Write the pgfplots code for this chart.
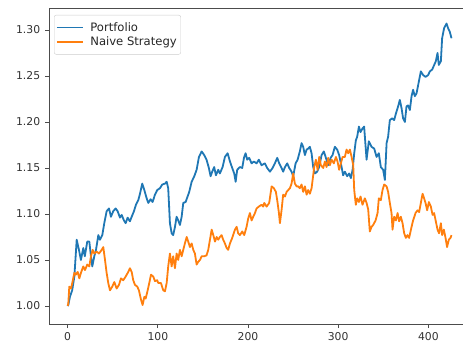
\documentclass[border=0pt]{standalone}
\usepackage{pgfplots}
\pgfplotsset{compat=1.18}
\usepackage{fontspec}
\setmainfont{DejaVu Sans}

\definecolor{tabblue}{HTML}{1F77B4}
\definecolor{taborange}{HTML}{FF7F0E}

\pgfplotstableread{
x y
0 1.000
0.7 1.001
2.5 1.010
5 1.017
7.4 1.032
10 1.072
12.5 1.061
14.7 1.050
17.3 1.063
19 1.054
21.7 1.070
24 1.070
25.8 1.054
27.3 1.043
29.5 1.054
31.4 1.061
34 1.077
35.8 1.072
38.4 1.077
40.6 1.090
43.2 1.103
45.8 1.106
48 1.097
50.5 1.103
53.2 1.106
55.4 1.103
58 1.096
59.9 1.099
62.4 1.093
64.3 1.090
66.5 1.096
69 1.092
71 1.097
73.5 1.103
75.7 1.110
78.3 1.115
80.2 1.122
82.7 1.133
85 1.126
87.6 1.117
89.4 1.112
92 1.116
94.2 1.113
96.8 1.121
99.3 1.126
102.3 1.128
104.9 1.132
107.9 1.133
109.8 1.135
111.5 1.128
113.4 1.090
115.3 1.079
117 1.077
119 1.086
120.8 1.097
122.6 1.093
124.5 1.088
126.4 1.097
128.2 1.112
130.8 1.113
133 1.119
134.8 1.124
137.5 1.135
140.4 1.141
143 1.148
145.6 1.162
148.6 1.168
151.4 1.164
154 1.159
156.6 1.150
158.5 1.141
160.3 1.146
162.5 1.151
164.4 1.142
167 1.148
168.8 1.144
171.8 1.151
174.4 1.162
177.4 1.166
180 1.157
182.5 1.150
184.7 1.144
186.3 1.135
188 1.148
191 1.151
193.6 1.150
195.5 1.161
197.3 1.166
199.1 1.159
201.3 1.161
204 1.155
206.5 1.157
209.5 1.155
212 1.159
215 1.153
218.7 1.155
221.3 1.150
224.3 1.146
227.3 1.150
229.8 1.155
232.4 1.161
234.6 1.155
237.2 1.150
239 1.146
241 1.151
243.5 1.155
245.7 1.150
248.3 1.146
250.1 1.141
252.8 1.155
255 1.159
257.5 1.168
259.4 1.177
261.2 1.173
263.1 1.164
265 1.170
266.7 1.171
268.6 1.173
270.5 1.166
272.3 1.151
274.2 1.144
276.7 1.146
278.9 1.151
281.6 1.164
284.1 1.168
286.4 1.161
288.9 1.153
291.6 1.161
293.8 1.164
296.3 1.173
298.9 1.170
301.1 1.164
303.8 1.151
305.5 1.142
307.4 1.146
310 1.141
312.2 1.144
314.1 1.139
316 1.148
317.8 1.166
319.6 1.180
321.1 1.184
323 1.195
324.8 1.189
327 1.193
328.8 1.195
331.5 1.159
334 1.179
337 1.173
340 1.171
342.6 1.162
345.1 1.166
347.3 1.151
349.9 1.148
351.8 1.137
353.7 1.177
355.4 1.184
357.3 1.202
359.9 1.204
362.1 1.202
364 1.209
366.5 1.217
368.4 1.224
370.3 1.215
372 1.204
374 1.200
375.8 1.217
377.6 1.218
379.5 1.213
381.4 1.228
383.1 1.235
385 1.228
386.9 1.231
389.5 1.244
391.7 1.255
394.2 1.251
396.9 1.249
399.8 1.251
401.7 1.255
404.3 1.257
406.5 1.262
408.3 1.266
410.2 1.275
411.6 1.262
413.9 1.266
415.3 1.291
417.5 1.302
420.2 1.307
421.9 1.302
423.8 1.298
425.7 1.291
}\portfolio

\pgfplotstableread{
x y
0 1.000
0.7 1.003
1.8 1.021
3.7 1.019
5.1 1.025
7.4 1.036
8.9 1.034
11.1 1.037
12.9 1.030
14.7 1.036
17.3 1.043
19.2 1.039
21.7 1.045
24 1.043
25.8 1.054
27.7 1.061
29.5 1.057
32.2 1.059
34.7 1.057
37.7 1.061
39.5 1.064
41.4 1.050
43.2 1.036
45 1.025
46.9 1.017
49.4 1.021
51.7 1.026
54.3 1.019
56.9 1.023
59.1 1.030
61.6 1.028
64.3 1.032
67.2 1.037
69 1.041
71 1.037
72.7 1.028
74.6 1.023
77.2 1.021
79 1.017
81.3 1.007
83.1 1.001
85 1.010
86.5 1.008
88.7 1.017
90.5 1.025
92.4 1.034
94.9 1.032
96.8 1.027
99.3 1.028
100.4 1.025
103.4 1.025
106 1.017
107.9 1.016
109.8 1.025
111.5 1.043
113.4 1.057
115.3 1.043
117 1.054
119 1.041
120.8 1.057
122.6 1.050
124.5 1.061
126.4 1.054
128.2 1.061
130 1.068
132 1.075
133.7 1.070
135.6 1.064
137.5 1.068
139.3 1.061
141.1 1.057
143 1.045
144.8 1.048
146.7 1.050
148.6 1.054
151.4 1.054
154 1.055
155.9 1.061
157.8 1.072
159.7 1.083
161.5 1.077
163.4 1.070
165.2 1.075
167 1.072
168.8 1.075
170.7 1.077
172.5 1.072
174.4 1.068
176.3 1.063
178 1.061
180 1.068
182.5 1.074
185.5 1.083
187.4 1.086
189.1 1.079
191 1.077
193.6 1.081
195.8 1.077
198.4 1.086
200.2 1.095
202.1 1.101
204 1.093
205.8 1.097
207.7 1.101
209.5 1.106
212 1.108
215 1.110
216.9 1.108
218 1.112
220.6 1.108
223.5 1.112
226.2 1.130
228.7 1.128
230.9 1.124
232.4 1.115
234.3 1.101
235.4 1.090
237.2 1.104
239 1.121
241 1.119
242.8 1.124
244.6 1.126
246.5 1.128
248.3 1.133
250.1 1.144
252 1.133
253.9 1.130
255.6 1.130
257.5 1.128
259.4 1.132
261.2 1.124
263.1 1.130
265 1.121
266.7 1.126
268.6 1.122
270.5 1.128
272.3 1.142
273.4 1.151
275.3 1.159
277.2 1.148
279 1.162
280.8 1.153
283.4 1.150
285.3 1.157
287.1 1.151
288.9 1.161
290.8 1.153
292.7 1.159
295.2 1.155
297.5 1.162
299.3 1.157
301.1 1.148
303 1.155
304.9 1.162
307.4 1.162
309.3 1.170
311.1 1.166
313 1.170
314.9 1.162
316.7 1.153
317.8 1.126
319.6 1.110
321.1 1.117
323 1.113
324.8 1.119
327 1.110
329.6 1.117
331.5 1.112
333.3 1.105
335.1 1.081
337 1.086
338.8 1.088
341.5 1.093
343.7 1.101
345.1 1.117
347.3 1.115
349.2 1.126
351 1.132
353.7 1.130
355.4 1.124
357.3 1.112
359.2 1.101
360.3 1.083
362.1 1.097
364 1.093
365.9 1.101
367.6 1.092
369.5 1.097
371.4 1.090
373.2 1.079
375.1 1.074
376.9 1.077
378.7 1.074
381.4 1.086
383.1 1.093
385.8 1.101
388 1.104
389.8 1.102
391.7 1.112
393.6 1.122
395.3 1.117
396.9 1.112
398.7 1.104
400.6 1.113
402.8 1.108
404.7 1.099
406.4 1.101
408.3 1.092
410.2 1.083
411.9 1.079
413.9 1.090
415.3 1.077
417.2 1.083
419.1 1.074
420.8 1.064
422.7 1.072
424.6 1.074
425.7 1.077
}\naive

\begin{document}
\begin{tikzpicture}
\begin{axis}[
  at={(49.2pt,22pt)}, anchor=south west,
  scale only axis,
  width=421.5pt, height=315pt,
  xmin=-20.5, xmax=447,
  ymin=0.9804, ymax=1.3228,
  xtick={0,100,200,300,400},
  ytick={1.00,1.05,1.10,1.15,1.20,1.25,1.30},
  tick pos=left,
  tick align=outside,
  major tick length=4pt,
  axis line style={black!70, line width=1pt},
  tick style={black!70, line width=0.9pt},
  /pgf/number format/assume math mode=true,
  ticklabel style={font=\fontsize{10.8}{12}\selectfont, text=black!80},
  yticklabel style={/pgf/number format/fixed,
    /pgf/number format/fixed zerofill,
    /pgf/number format/precision=2,
    xshift=-1.5pt},
  xticklabel style={yshift=-1pt},
  legend cell align=left,
  % sample line plus a little empty room before the entry text
  legend image code/.code={%
    \draw[#1, line width=1.5pt] (0pt,0pt) -- (26.5pt,0pt);
    \path (30.5pt,0pt);},
  legend style={at={(0,1)}, anchor=north west, xshift=4.8pt, yshift=-6pt,
    draw=black!20, rounded corners=2pt, fill=white,
    font=\fontsize{11.6}{13.5}\selectfont, text=black!85,
    inner xsep=2pt, inner ysep=5pt, row sep=0.5pt},
]
\addplot[tabblue, line width=1.8pt, line join=round] table[x=x, y=y] {\portfolio};
\addlegendentry{Portfolio}
\addplot[taborange, line width=1.8pt, line join=round] table[x=x, y=y] {\naive};
\addlegendentry{Naive Strategy}
\end{axis}
\pgfresetboundingbox
\useasboundingbox (0pt,0pt) rectangle (463pt,346pt);
\end{tikzpicture}
\end{document}
